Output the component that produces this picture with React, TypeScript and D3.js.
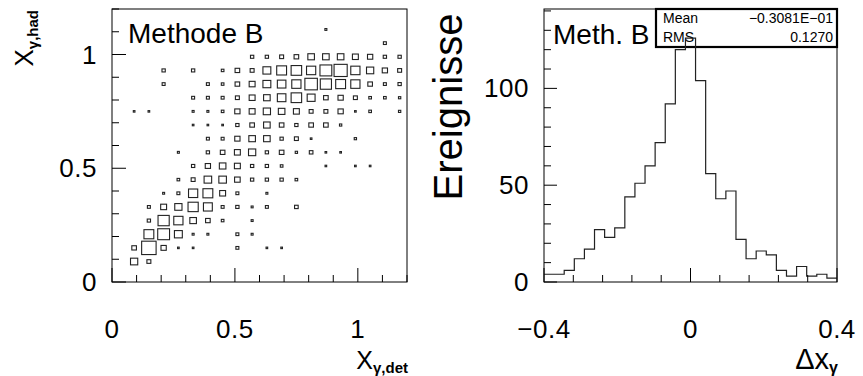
import React from "react";
import * as d3 from "d3";

// ---------- DATA ----------
// 2D box plot: x_gamma,det (columns) vs x_gamma,had (rows), 20x20 bins on [0,1.2]
const binEdges2D = [0, 1.2];
const nBins2D = 20;
// rows from bottom (row 0) to top (row 19); values = cell contents
const boxRows: number[][] = [
  [0,0,0,0,0,0,0,0,0,0,0,0,0,0,0,0,0,0,0,0],
  [0,22,12,0,0,0,0,0,0,0,0,0,0,0,0,0,0,0,0,0],
  [0,14,44,16,5,5,0,0,9,0,5,5,0,0,0,0,0,0,0,0],
  [0,0,30,36,24,6,6,0,9,6,0,0,0,0,0,0,0,0,0,0],
  [0,0,10,34,28,20,14,8,0,6,0,0,0,0,0,0,0,0,0,0],
  [0,0,9,18,22,31,27,9,10,6,9,0,11,0,0,0,0,0,0,0],
  [0,0,0,6,9,28,30,18,9,0,6,0,0,0,0,0,0,0,0,0],
  [0,0,0,0,8,12,23,23,17,10,10,10,8,0,0,0,0,0,0,0],
  [0,0,0,0,0,10,16,20,18,10,10,8,0,0,5,0,5,5,0,0],
  [0,0,0,0,6,0,10,14,18,22,10,14,7,11,5,5,0,0,0,0],
  [0,0,0,0,0,0,9,9,16,20,20,10,12,5,0,0,7,0,0,0],
  [0,0,0,0,0,5,5,5,10,14,20,14,10,14,14,7,0,0,0,0],
  [0,5,5,0,0,6,6,8,16,18,22,20,18,12,12,16,5,8,0,7],
  [0,0,0,0,0,9,9,9,12,18,20,26,32,24,14,16,12,8,8,7],
  [0,0,0,9,0,0,9,8,14,18,24,26,28,38,34,30,28,14,9,10],
  [0,0,0,10,0,10,0,8,14,12,24,30,32,28,36,40,28,22,16,12],
  [0,0,0,0,0,0,0,0,0,10,10,12,14,20,20,20,18,16,10,10],
  [0,0,0,0,0,0,0,0,0,0,0,0,0,0,0,0,0,0,9,0],
  [0,0,0,0,0,0,0,0,0,0,0,0,0,0,6,0,0,0,0,0],
  [0,0,0,0,0,0,0,0,0,0,0,0,0,0,0,0,0,0,0,0],
];
const leftTickLabels = ["0", "0.5", "1"];
const leftTickValues = [0, 0.5, 1];

// 1D histogram of delta x_gamma: 29 bins on [-0.4, 0.4]
const histRange = [-0.4, 0.4];
const histCounts = [4,4,6,12,17,27,23,28,44,51,60,72,92,120,126,104,56,43,47,22,12,16,14,6,3,8,3,4,2];
const histYMax = 141;
const rightXTickValues = [-0.4, 0, 0.4];
const rightXTickLabels = ["\u22120.4", "0", "0.4"];
const rightYTickValues = [0, 50, 100];
const rightYTickLabels = ["0", "50", "100"];
const statNames = ["Mean", "RMS"];
const statValues = ["\u22120.3081E\u221201", "0.1270"];

// ---------- LAYOUT ----------
const W = 863, H = 376;
const FONT = "'Liberation Sans', Arial, Helvetica, sans-serif";
const LF = { x0: 112, x1: 407, y0: 9, y1: 282 };
const RF = { x0: 544, x1: 837, y0: 9, y1: 282 };
const TICK_FS = 26;
const XLAB_Y = 338;
const XTITLE_Y = 369;

export default function App() {
  const lx = d3.scaleLinear().domain(binEdges2D).range([LF.x0, LF.x1]);
  const ly = d3.scaleLinear().domain(binEdges2D).range([LF.y1, LF.y0]);
  const bw = (binEdges2D[1] - binEdges2D[0]) / nBins2D;
  const cellW = lx(bw) - lx(0);
  const cellH = ly(0) - ly(bw);
  const vmax = d3.max(boxRows.flat()) as number;
  const sx = d3.scaleLinear().domain([0, vmax]).range([0, cellW * 0.98]);
  const sy = d3.scaleLinear().domain([0, vmax]).range([0, cellH * 0.98]);

  const boxes: { cx: number; cy: number; w: number; h: number; k: string }[] = [];
  boxRows.forEach((row, j) => {
    row.forEach((v, i) => {
      if (v > 0) {
        boxes.push({
          cx: lx(binEdges2D[0] + (i + 0.5) * bw),
          cy: ly(binEdges2D[0] + (j + 0.5) * bw),
          w: sx(v),
          h: sy(v),
          k: `${i}-${j}`,
        });
      }
    });
  });

  const lTicks = d3.range(0, 13).map((k) => k * 0.1);

  // right histogram
  const rx = d3.scaleLinear().domain(histRange).range([RF.x0, RF.x1]);
  const ry = d3.scaleLinear().domain([0, histYMax]).range([RF.y1, RF.y0]);
  const hbw = (histRange[1] - histRange[0]) / histCounts.length;
  const pts: [number, number][] = histCounts.map((c, k) => [histRange[0] + k * hbw, c]);
  pts.push([histRange[1], histCounts[histCounts.length - 1]]);
  const histPath = d3
    .line<[number, number]>()
    .x((d) => rx(d[0]))
    .y((d) => ry(d[1]))
    .curve(d3.curveStepAfter)(pts) as string;
  const rxTicks = d3.range(0, 11).map((k) => -0.4 + k * 0.08);
  const ryTicks = d3.range(0, 15).map((k) => k * 10);

  const isMajor = (v: number, majors: number[]) => majors.some((m) => Math.abs(m - v) < 1e-6);

  return (
    <svg
      width={W}
      height={H}
      style={{ position: "absolute", left: 0, top: 0, background: "#fff" }}
      fontFamily={FONT}
    >
      <rect x={0} y={0} width={W} height={H} fill="#fff" />

      {/* ---------- LEFT PANEL ---------- */}
      <rect x={LF.x0} y={LF.y0} width={LF.x1 - LF.x0} height={LF.y1 - LF.y0} fill="none" stroke="#000" strokeWidth={1} />
      {boxes.map((b) => (
        <rect key={b.k} x={b.cx - b.w / 2} y={b.cy - b.h / 2} width={b.w} height={b.h} fill="none" stroke="#222" strokeWidth={1.1} />
      ))}
      {lTicks.map((t) => {
        const maj = isMajor(t, leftTickValues);
        return (
          <g key={"lt" + t}>
            <line x1={lx(t)} x2={lx(t)} y1={LF.y1} y2={LF.y1 - (maj ? 14 : 7)} stroke="#000" />
            <line x1={LF.x0} x2={LF.x0 + (maj ? 14 : 7)} y1={ly(t)} y2={ly(t)} stroke="#000" />
          </g>
        );
      })}
      {leftTickValues.map((t, k) => (
        <g key={"ll" + t}>
          <text x={lx(t)} y={XLAB_Y} fontSize={TICK_FS} letterSpacing={0.5} textAnchor="middle">{leftTickLabels[k]}</text>
          <text x={97} y={ly(t) + 9} fontSize={TICK_FS} letterSpacing={0.5} textAnchor="end">{leftTickLabels[k]}</text>
        </g>
      ))}
      <text x={128} y={43} fontSize={28}>Methode B</text>
      <text x={408} y={XTITLE_Y} fontSize={25} textAnchor="end">
        X<tspan dy={4} fontSize={15} fontWeight="bold">γ,det</tspan>
      </text>
      <text transform="translate(33,10) rotate(-90)" fontSize={26} textAnchor="end">
        X<tspan dy={5} fontSize={15} fontWeight="bold">γ,had</tspan>
      </text>

      {/* ---------- RIGHT PANEL ---------- */}
      <rect x={RF.x0} y={RF.y0} width={RF.x1 - RF.x0} height={RF.y1 - RF.y0} fill="none" stroke="#000" strokeWidth={1} />
      <rect x={656} y={RF.y0} width={RF.x1 - 656} height={38} fill="#fff" stroke="#000" strokeWidth={2.2} />
      {statNames.map((n, k) => (
        <g key={n}>
          <text x={663} y={23 + k * 19} fontSize={14}>{n}</text>
          <text x={833} y={23 + k * 19} fontSize={14} textAnchor="end">{statValues[k]}</text>
        </g>
      ))}
      <path d={histPath} fill="none" stroke="#222" strokeWidth={1.2} />
      {rxTicks.map((t) => {
        const maj = isMajor(t, rightXTickValues);
        return <line key={"rxt" + t} x1={rx(t)} x2={rx(t)} y1={RF.y1} y2={RF.y1 - (maj ? 14 : 7)} stroke="#000" />;
      })}
      {ryTicks.map((t) => {
        const maj = isMajor(t, rightYTickValues);
        return <line key={"ryt" + t} x1={RF.x0} x2={RF.x0 + (maj ? 13 : 7)} y1={ry(t)} y2={ry(t)} stroke="#000" />;
      })}
      {rightXTickValues.map((t, k) => (
        <text key={"rxl" + t} x={rx(t)} y={XLAB_Y} fontSize={TICK_FS} letterSpacing={0.5} textAnchor="middle">{rightXTickLabels[k]}</text>
      ))}
      {rightYTickValues.map((t, k) => (
        <text key={"ryl" + t} x={529} y={ry(t) + 9} fontSize={TICK_FS} letterSpacing={0.5} textAnchor="end">{rightYTickLabels[k]}</text>
      ))}
      <text x={553} y={44} fontSize={28}>Meth. B</text>
      <text transform="translate(462,107) rotate(-90)" fontSize={40} textAnchor="middle">Ereignisse</text>
      <text x={838} y={XTITLE_Y} fontSize={29} textAnchor="end">
        Δx<tspan dy={4} fontSize={16} fontWeight="bold">γ</tspan>
      </text>
    </svg>
  );
}
